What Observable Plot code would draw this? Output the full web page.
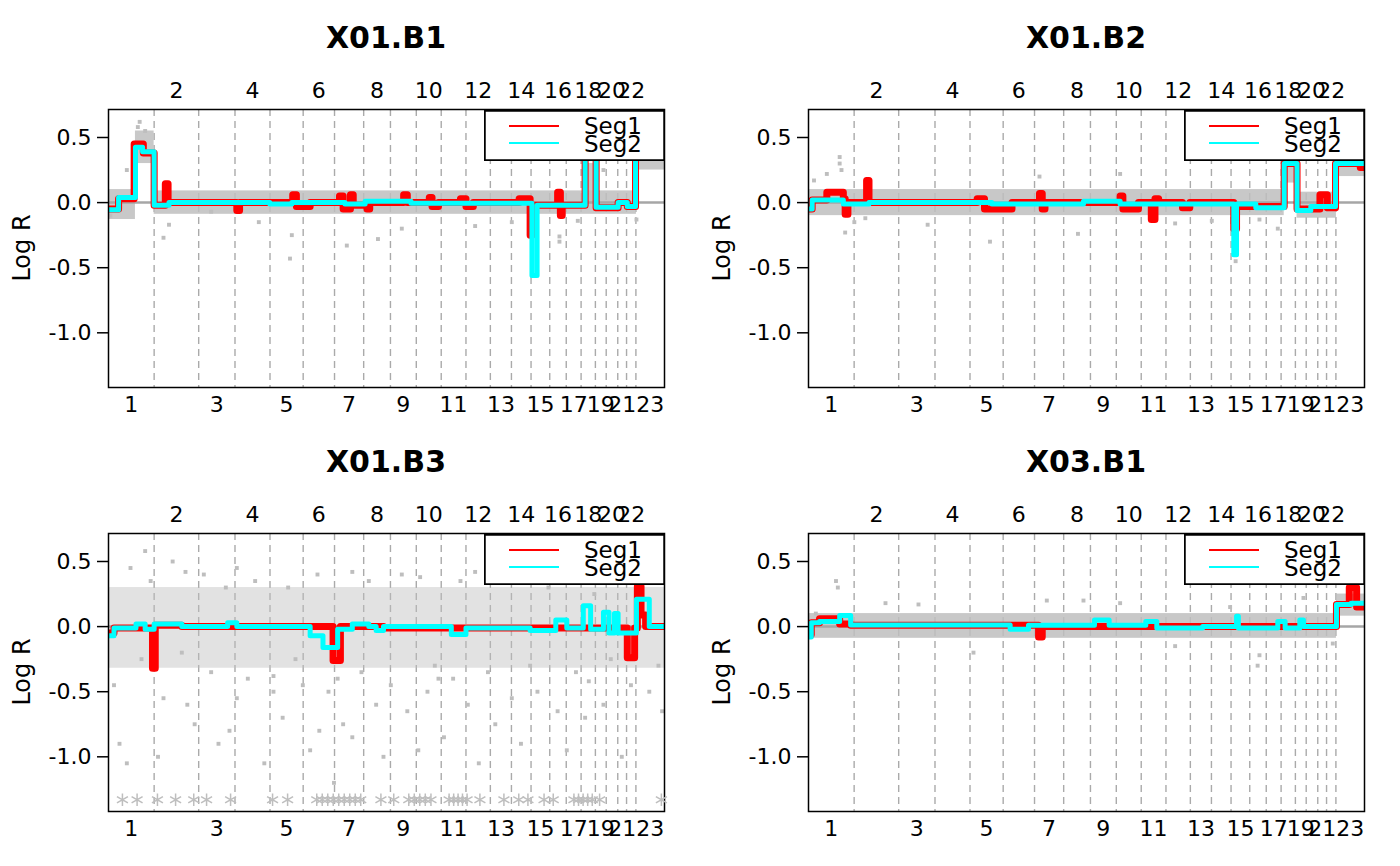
<!DOCTYPE html>
<html><head><meta charset="utf-8">
<script src="https://cdn.jsdelivr.net/npm/d3@7"></script>
<script src="https://cdn.jsdelivr.net/npm/@observablehq/plot@0.6"></script>
<style>
body{margin:0;background:#fff;font-family:"DejaVu Sans",sans-serif}
#root{position:relative;width:1400px;height:866px}
.panel{position:absolute;width:700px;height:433px}
.title{position:absolute;top:19px;left:108px;width:556px;text-align:center;font-weight:bold;font-size:30px;line-height:38px}
.ylab{position:absolute;left:22px;top:248px;transform:translate(-50%,-50%) rotate(-90deg);font-size:24px;white-space:nowrap}
.leg{position:absolute;left:484px;top:110px}
</style></head><body><div id="root"></div>
<script>
// chromosome lengths (Mb, hg19), 1..22, X shown as 23
const chromLabels = ["1","2","3","4","5","6","7","8","9","10","11","12","13","14","15","16","17","18","19","20","21","22","23"];
const chromLen = [249,243,198,191,181,171,159,146,141,136,135,133,115,107,102,90,81,78,59,63,48,51,156];

const titles = ["X01.B1","X01.B2","X01.B3","X03.B1"];

// segments: [startMb, endMb, value] in genome coordinates
const seg2 = [
 [[0,55,-0.055],[55,147,0.04],[147,186,0.425],[186,249,0.39],[249,330,-0.02],[330,690,0.0],[690,880,0.0],[880,1000,-0.01],[1000,1290,0.0],[1290,1400,-0.01],[1400,1650,0.01],[1650,2310,-0.005],[2310,2338,-0.56],[2338,2600,-0.02],[2600,2660,0.9],[2660,2780,-0.035],[2780,2830,0.0],[2830,2875,-0.03],[2875,3036,0.9]],
 [[0,20,-0.05],[20,190,0.02],[190,330,-0.01],[330,1000,0.0],[1000,1500,-0.01],[1500,1700,0.01],[1700,2320,-0.01],[2320,2335,-0.4],[2335,2440,-0.01],[2440,2595,-0.04],[2595,2665,0.3],[2665,2740,-0.06],[2740,2860,-0.03],[2860,2875,-0.03],[2875,3036,0.3]],
 [[0,30,-0.07],[30,150,-0.01],[150,200,0.02],[200,249,-0.02],[249,400,0.02],[400,650,0.0],[650,700,0.03],[700,1100,0.0],[1100,1170,-0.07],[1170,1250,-0.16],[1250,1330,-0.02],[1330,1420,0.02],[1420,1460,0.0],[1460,1500,-0.03],[1500,1870,0.0],[1870,1950,-0.06],[1950,2300,-0.01],[2300,2440,-0.03],[2440,2500,0.05],[2500,2590,-0.01],[2590,2630,0.16],[2630,2700,-0.02],[2700,2730,0.11],[2730,2760,-0.05],[2760,2780,0.1],[2780,2880,-0.05],[2880,2950,0.21],[2950,3036,0.0]],
 [[0,15,-0.08],[15,60,0.03],[60,170,0.04],[170,230,0.085],[230,1100,0.013],[1100,1200,-0.02],[1200,1560,0.01],[1560,1640,0.05],[1640,1840,0.01],[1840,1900,0.04],[1900,2150,-0.01],[2150,2335,0.0],[2335,2345,0.08],[2345,2560,-0.01],[2560,2600,0.04],[2600,2680,-0.01],[2680,2700,0.05],[2700,2880,0.0],[2880,2960,0.17],[2960,3036,0.18]]
];
const seg1 = [
 [[0,55,-0.05],[55,140,0.03],[140,190,0.45],[190,249,0.38],[249,310,-0.02],[310,325,0.145],[325,700,0.0],[700,715,-0.06],[715,1005,0.0],[1005,1025,0.06],[1025,1100,-0.03],[1100,1260,0.0],[1260,1280,0.05],[1280,1320,-0.05],[1320,1335,0.06],[1335,1410,-0.02],[1410,1425,-0.05],[1425,1610,0.0],[1610,1630,0.06],[1630,1750,0.0],[1750,1765,0.04],[1765,1800,-0.03],[1800,1920,0.0],[1920,1950,0.03],[1950,1990,-0.03],[1990,2240,0.0],[2240,2300,0.03],[2300,2310,-0.25],[2310,2450,-0.02],[2450,2465,0.08],[2465,2475,-0.1],[2475,2600,-0.02],[2600,2660,0.9],[2660,2780,-0.04],[2780,2830,0.0],[2830,2875,-0.03],[2875,3036,0.9]],
 [[0,20,-0.05],[20,100,0.02],[100,190,0.08],[190,200,0.03],[200,215,-0.09],[215,317,0.0],[317,330,0.17],[330,920,0.0],[920,960,0.03],[960,1110,-0.05],[1110,1260,0.0],[1260,1275,0.07],[1275,1290,-0.05],[1290,1700,0.0],[1700,1715,0.05],[1715,1800,-0.05],[1800,1870,0.0],[1870,1890,-0.13],[1890,1910,0.03],[1910,2040,0.0],[2040,2080,-0.04],[2080,2320,0.0],[2320,2335,-0.2],[2335,2595,-0.03],[2595,2665,0.3],[2665,2790,-0.05],[2790,2830,0.06],[2830,2875,-0.04],[2875,3010,0.3],[3010,3036,0.27]],
 [[0,30,-0.05],[30,240,-0.01],[240,255,-0.32],[255,400,0.01],[400,1225,0.0],[1225,1265,-0.26],[1265,1500,0.0],[1500,2830,-0.01],[2830,2870,-0.24],[2870,2885,-0.01],[2885,2905,0.31],[2905,2930,0.09],[2930,3036,0.0]],
 [[0,15,-0.06],[15,60,0.03],[60,170,0.06],[170,230,0.02],[230,1255,0.01],[1255,1275,-0.08],[1275,2880,0.0],[2880,2950,0.17],[2950,2990,0.3],[2990,3036,0.15]]
];

// dense gray cloud: [startMb, endMb, lo, hi]
const bands = [
 [[0,147,-0.13,0.1],[147,249,0.3,0.55],[249,2880,-0.09,0.09],[2600,2660,0.0,0.3],[2880,3036,0.25,0.4]],
 [[0,2595,-0.1,0.1],[2595,2665,0.15,0.3],[2665,2880,-0.12,0.08],[2880,3036,0.2,0.36]],
 [[0,3036,-0.32,0.3]],
 [[0,2880,-0.09,0.1],[2880,3036,0.08,0.25]]
];

// scattered points: [Mb, value]
const outliers = [
 [[10,-0.1],[100,0.25],[170,0.62],[160,0.58],[200,0.55],[300,-0.27],[330,-0.17],[560,-0.07],[820,-0.15],[990,-0.43],[1000,-0.25],[1300,-0.33],[1470,-0.28],[1600,-0.2],[2000,-0.18],[2200,-0.15],[2460,-0.26],[2460,-0.3],[2560,-0.14],[2700,0.25],[2880,-0.13]],
 [[30,0.17],[100,0.22],[170,0.35],[170,0.3],[180,0.25],[200,-0.23],[250,-0.15],[310,-0.12],[650,-0.17],[990,-0.3],[1260,0.2],[1470,-0.24],[1700,0.22],[2000,-0.16],[2200,-0.14],[2330,-0.45],[2460,-0.13],[2560,-0.2],[2620,0.35],[2900,0.3]],
 [[30,-0.45],[60,-0.9],[100,-1.05],[180,-0.25],[230,0.35],[270,-1.0],[300,-0.55],[350,0.5],[400,-0.2],[430,-0.6],[470,-0.75],[520,0.4],[560,-0.35],[600,-0.9],[640,0.3],[660,-0.8],[700,-0.55],[760,-0.4],[800,0.35],[850,-1.05],[900,-0.5],[950,-0.7],[980,0.3],[1020,-0.25],[1060,-0.45],[1100,-0.95],[1150,-0.8],[1200,-0.5],[1230,-1.2],[1250,-0.4],[1280,-0.75],[1330,-0.85],[1380,-0.35],[1420,0.35],[1460,-0.6],[1500,-1.0],[1540,-0.45],[1600,0.4],[1630,-0.65],[1690,-0.95],[1740,-0.5],[1780,-0.3],[1830,-0.85],[1880,-0.4],[1920,0.35],[1960,-0.6],[2020,-1.05],[2070,-0.35],[2110,-0.75],[2150,0.35],[2200,-0.55],[2250,-0.9],[2300,-0.3],[2340,-0.5],[2400,0.3],[2450,-0.65],[2500,-0.95],[2550,-0.35],[2600,-0.7],[2650,0.25],[2700,-0.6],[2740,-0.25],[2800,-1.0],[2850,-0.45],[2900,0.35],[2950,-0.5],[3000,-0.3],[3020,-0.65],[120,0.45],[420,0.42],[700,0.45],[1140,0.4],[1330,0.42],[1700,0.38],[2000,0.42],[2300,0.38],[2550,0.4],[200,0.58],[900,-0.38],[1800,-0.4],[2620,-0.42]],
 [[40,0.1],[150,0.35],[160,0.3],[420,0.18],[600,0.17],[900,-0.2],[1300,0.2],[1500,0.2],[1700,0.18],[2000,-0.15],[2300,0.15],[2450,-0.3],[2460,-0.22],[2700,0.22],[2860,-0.13]]
];

// values below the axis range (drawn as asterisks), panel 3 only
const offscale = [76,156,267,366,465,535,666,895,977,1136,1166,1196,1226,1256,1286,1316,1346,1376,1486,1556,1638,1668,1698,1728,1759,1858,1883,1907,1931,1956,2026,2157,2238,2288,2376,2426,2539,2564,2589,2614,2639,2679,3016];

const yTicks = [0.5,0,-0.5,-1];
const yDomain = [-1.42, 0.715];

const starts = [];
let acc = 0;
for (const l of chromLen) { starts.push(acc); acc += l; }
const total = acc;
const chroms = chromLabels.map((c,i)=>({label:c, mid:starts[i]+chromLen[i]/2, i}));
const bounds = starts.slice(1);

function toLine(segs){ const pts=[]; for(const [a,b,v] of segs){pts.push({x:a,y:v});pts.push({x:b,y:v});} return pts; }

const root = document.getElementById("root");
titles.forEach((t,p)=>{
  const div = document.createElement("div");
  div.className="panel";
  div.style.left = (p%2)*700+"px";
  div.style.top = Math.floor(p/2)*424+"px";
  const marks = [
    Plot.ruleX(bounds,{stroke:"#aaaaaa",strokeWidth:1.4,strokeDasharray:"7,5"}),
    Plot.rect(bands[p].map(d=>({x1:d[0],x2:d[1],y1:d[2],y2:d[3]})),{x1:"x1",x2:"x2",y1:"y1",y2:"y2",fill:"#bebebe",fillOpacity:p===2?0.45:0.85,clip:true}),
    Plot.dot(outliers[p],{x:d=>d[0],y:d=>d[1],symbol:"square",r:2.2,fill:"#bebebe",stroke:null,clip:true}),
    Plot.ruleY([0],{stroke:"#a6a6a6",strokeWidth:2.5}),
    Plot.line(toLine(seg1[p]),{x:"x",y:"y",stroke:"#ff0000",strokeWidth:7,clip:true}),
    Plot.line(toLine(seg2[p]),{x:"x",y:"y",stroke:"#00ffff",strokeWidth:5,clip:true}),
    Plot.frame({stroke:"black",strokeWidth:1.5}),
    Plot.axisY(yTicks,{tickSize:11,tickFormat:d=>d.toFixed(1),fontSize:22,tickPadding:6,label:null,stroke:"black",strokeWidth:1.5}),
    Plot.text(chroms.filter(c=>c.i%2===1),{x:"mid",text:"label",frameAnchor:"top",dy:-27,fontSize:22,fill:"black"}),
    Plot.text(chroms.filter(c=>c.i%2===0),{x:"mid",text:"label",frameAnchor:"bottom",dy:24,fontSize:22,fill:"black"})
  ];
  if (p===2) marks.push(Plot.dot(offscale,{x:d=>d,y:()=>-1.33,symbol:"asterisk",r:6,stroke:"#bebebe",strokeWidth:1.5}));
  const chart = Plot.plot({
    width:700,height:433,marginLeft:108,marginRight:36,marginTop:109,marginBottom:46,
    style:{fontFamily:"DejaVu Sans",fontSize:"22px",color:"black",background:"white"},
    x:{domain:[0,total],axis:null},
    y:{domain:yDomain,axis:null},
    marks
  });
  div.appendChild(chart);
  const tt=document.createElement("div");tt.className="title";tt.textContent=t;div.appendChild(tt);
  const yl=document.createElement("div");yl.className="ylab";yl.textContent="Log R";div.appendChild(yl);
  const lg=document.createElement("div");lg.className="leg";
  lg.innerHTML=`<svg width="181" height="51" style="overflow:hidden;display:block">
   <rect x="0.75" y="0.75" width="179.5" height="49.5" fill="white" stroke="black" stroke-width="1.5"/>
   <line x1="25" x2="75" y1="16" y2="16" stroke="#ff0000" stroke-width="2"/>
   <line x1="25" x2="75" y1="33" y2="33" stroke="#00ffff" stroke-width="2"/>
   <text x="158" y="24" text-anchor="end" font-family="DejaVu Sans" font-size="23">Seg1</text>
   <text x="158" y="42" text-anchor="end" font-family="DejaVu Sans" font-size="23">Seg2</text>
   <rect x="0.75" y="0.75" width="179.5" height="49.5" fill="none" stroke="black" stroke-width="1.5"/>
  </svg>`;
  div.appendChild(lg);
  root.appendChild(div);
});
</script></body></html>
